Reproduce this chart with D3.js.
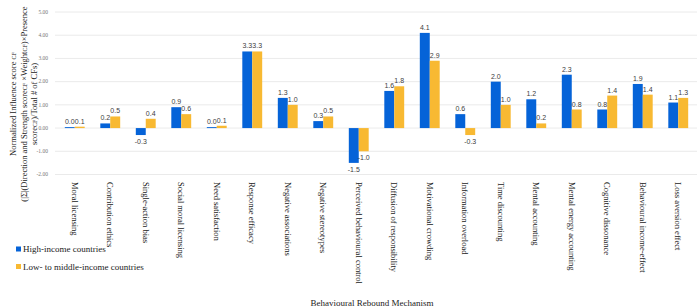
<!DOCTYPE html>
<html>
<head>
<meta charset="utf-8">
<script src="https://cdn.jsdelivr.net/npm/d3@7"></script>
<style>
  body { margin: 0; background: #fff; }
  svg { display: block; }
</style>
</head>
<body>
<script>
// behavioural rebound mechanisms, two country groups
var categories = ["Moral licensing", "Contribution ethics", "Single-action bias", "Social moral licensing",
  "Need satisfaction", "Response efficacy", "Negative associations", "Negative stereotypes",
  "Perceived behavioural control", "Diffusion of responsibility", "Motivational crowding",
  "Information overload", "Time discounting", "Mental accounting", "Mental energy accounting",
  "Cognitive dissonance", "Behavioural income-effect", "Loss aversion effect"];
var highIncome = [0.04, 0.2, -0.3, 0.9, 0.04, 3.3, 1.3, 0.3, -1.5, 1.6, 4.1, 0.6, 2.0, 1.24, 2.3, 0.8, 1.9, 1.1];
var lowMiddle = [0.06, 0.5, 0.4, 0.6, 0.1, 3.3, 1.0, 0.5, -1.0, 1.8, 2.9, -0.3, 1.0, 0.2, 0.8, 1.4, 1.44, 1.3];
var yTicks = [-2, -1, 0, 1, 2, 3, 4, 5];
var seriesNames = ["High-income countries", "Low- to middle-income countries"];
var colors = ["#0563d8", "#f8b932"];

var w = 699;
var h = 308;

var svg = d3.select("body")
  .append("svg")
  .attr("width", w)
  .attr("height", h);

var x = d3.scaleBand()
  .domain(categories)
  .range([57, 696])
  .paddingInner(0.44)
  .paddingOuter(0.22);

var sub = d3.scaleBand()
  .domain([0, 1])
  .range([0, x.bandwidth()]);

var y = d3.scaleLinear()
  .domain([-2, 5])
  .range([174.5, 12]);

// gridlines
svg.append("g")
  .selectAll("line")
  .data(yTicks)
  .enter()
  .append("line")
  .attr("x1", 55)
  .attr("x2", 697)
  .attr("y1", function(d) { return y(d); })
  .attr("y2", function(d) { return y(d); })
  .attr("stroke", "#e4e4e4")
  .attr("stroke-width", 0.8);

// y tick labels
svg.append("g")
  .selectAll("text")
  .data(yTicks)
  .enter()
  .append("text")
  .text(function(d) { return d.toFixed(2); })
  .attr("x", 48)
  .attr("y", function(d) { return y(d) + 1.8; })
  .attr("text-anchor", "end")
  .attr("font-family", "Liberation Serif, serif")
  .attr("font-size", "5.5px")
  .attr("fill", "#777");

var rows = categories.map(function(c, i) {
  return {cat: c, vals: [highIncome[i], lowMiddle[i]]};
});

var groups = svg.selectAll("g.cat")
  .data(rows)
  .enter()
  .append("g")
  .attr("class", "cat")
  .attr("transform", function(d) { return "translate(" + x(d.cat) + ",0)"; });

groups.selectAll("rect")
  .data(function(d) { return d.vals; })
  .enter()
  .append("rect")
  .attr("x", function(d, i) { return sub(i); })
  .attr("width", sub.bandwidth())
  .attr("y", function(d) { return Math.min(y(d), y(0)); })
  .attr("height", function(d) { return Math.abs(y(d) - y(0)); })
  .attr("fill", function(d, i) { return colors[i]; });

groups.selectAll("text")
  .data(function(d) { return d.vals; })
  .enter()
  .append("text")
  .text(function(d) { return d.toFixed(1); })
  .attr("x", function(d, i) { return sub(i) + sub.bandwidth() / 2; })
  .attr("y", function(d) { return d >= 0 ? y(d) - 3 : y(d) + 9; })
  .attr("text-anchor", "middle")
  .attr("font-family", "Liberation Sans, Arial, sans-serif")
  .attr("font-size", "7px")
  .attr("fill", "#404040");

// category labels, rotated
svg.append("g")
  .selectAll("text")
  .data(categories)
  .enter()
  .append("text")
  .text(function(d) { return d; })
  .attr("transform", function(d) {
    return "translate(" + (x(d) + x.bandwidth() / 2 - 3) + ",182) rotate(90)";
  })
  .attr("font-family", "Liberation Serif, serif")
  .attr("font-size", "8.5px")
  .attr("fill", "#222");

// y axis title
var yTitle = svg.append("text")
  .attr("transform", "translate(0,104) rotate(-90)")
  .attr("text-anchor", "middle")
  .attr("font-family", "Liberation Serif, serif")
  .attr("font-size", "8.5px")
  .attr("fill", "#222");
yTitle.append("tspan").attr("x", 0).attr("y", 16).text("Normalized Influence score ")
yTitle.append("tspan").attr("font-size", "6px").text("CF");
yTitle.append("tspan").attr("x", 0).attr("y", 26.5).text("(|Σ|(Direction and Strength score")
yTitle.append("tspan").attr("font-size", "6px").text("CF");
yTitle.append("tspan").text(" ×Weight");
yTitle.append("tspan").attr("font-size", "6px").text("CF");
yTitle.append("tspan").text(")×Presence");
yTitle.append("tspan").attr("x", 0).attr("y", 36.5).text("score");
yTitle.append("tspan").attr("font-size", "6px").text("CF");
yTitle.append("tspan").text(")/Total # of CFs)");

// legend
var legend = svg.append("g")
  .selectAll("g")
  .data(seriesNames)
  .enter()
  .append("g")
  .attr("transform", function(d, i) { return "translate(16," + (252 + i * 17.5) + ")"; });

legend.append("rect")
  .attr("width", 5)
  .attr("height", 5)
  .attr("y", -5.5)
  .attr("fill", function(d, i) { return colors[i]; });

legend.append("text")
  .text(function(d) { return d; })
  .attr("x", 7)
  .attr("font-family", "Liberation Serif, serif")
  .attr("font-size", "9px")
  .attr("fill", "#222");

// x axis title
svg.append("text")
  .text("Behavioural Rebound Mechanism")
  .attr("x", 372)
  .attr("y", 306)
  .attr("text-anchor", "middle")
  .attr("font-family", "Liberation Serif, serif")
  .attr("font-size", "9px")
  .attr("fill", "#222");
</script>
</body>
</html>
